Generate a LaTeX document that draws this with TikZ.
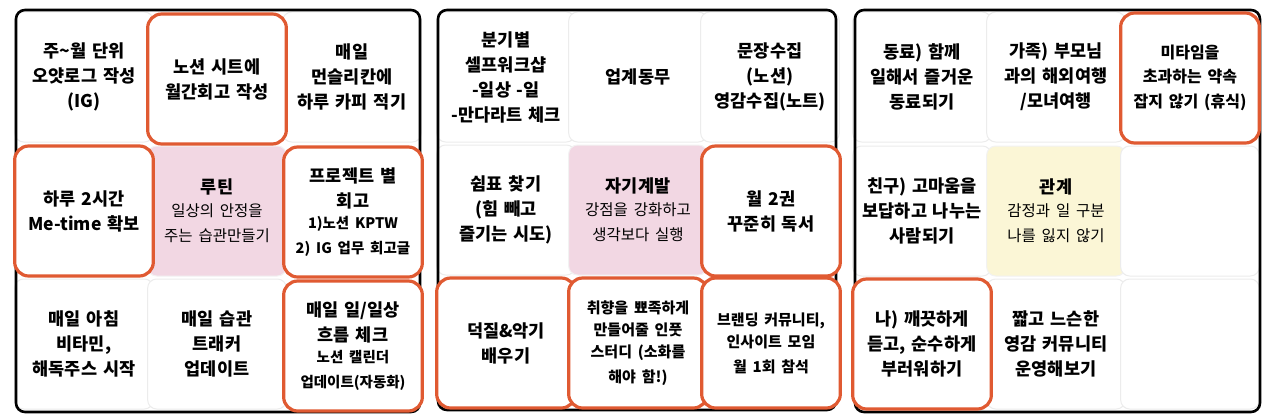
\documentclass[tikz,border=0pt]{standalone}
\usepackage{fontspec}
\setmainfont{Noto Sans CJK KR}
\definecolor{org}{HTML}{E05A32}
\definecolor{pinkc}{HTML}{F2D7E3}
\definecolor{yelc}{HTML}{FBF6D6}
\definecolor{grid}{HTML}{ECECEC}
\tikzset{
 cellbox/.style={draw=grid, line width=1pt, rounded corners=9pt, fill=white, minimum width=129pt, minimum height=130pt, align=center, text width=132pt, font=\fontsize{17.5}{25}\selectfont\bfseries},
 hot/.style={draw=org, line width=3.2pt, rounded corners=14pt},
 pinkcell/.style={fill=pinkc, draw=grid!80!black!20},
 yelcell/.style={fill=yelc, draw=grid!80!black!20},
 outer/.style={draw=black, line width=2.6pt, rounded corners=9pt}
}
\newcommand{\subt}[1]{{\mdseries\fontsize{15.5}{23}\selectfont #1}}
\begin{document}
\begin{tikzpicture}[x=1pt,y=-1pt]
\useasboundingbox (0,0) rectangle (1280,420);
\fill[white] (0,0) rectangle (1280,420);
% panel 1
\node[cellbox] (a11) at (84,77) {주\textasciitilde 월 단위\\오얏로그 작성\\(IG)};
\node[cellbox] (a13) at (352,77) {매일\\먼슬리칸에\\하루 카피 적기};
\node[cellbox,pinkcell] (a22) at (217,211) {루틴\\\subt{일상의 안정을\\주는 습관만들기}};
\node[cellbox] (a31) at (84,344) {매일 아침\\비타민,\\해독주스 시작};
\node[cellbox] (a32) at (217,344) {매일 습관\\트래커\\업데이트};
% panel 2
\node[cellbox] (b11) at (506,77) {분기별\\셀프워크샵\\-일상 -일\\-만다라트 체크};
\node[cellbox] (b12) at (638,77) {업계동무};
\node[cellbox] (b13) at (770,77) {문장수집\\(노션)\\영감수집(노트)};
\node[cellbox] (b21) at (506,210) {쉼표 찾기\\(힘 빼고\\즐기는 시도)};
\node[cellbox,pinkcell] (b22) at (638,210) {자기계발\\\subt{강점을 강화하고\\생각보다 실행}};
% panel 3
\node[cellbox] (c11) at (922,77) {동료) 함께\\일해서 즐거운\\동료되기};
\node[cellbox] (c12) at (1056,77) {가족) 부모님\\과의 해외여행\\/모녀여행};
\node[cellbox] (c21) at (922,211) {친구) 고마움을\\보답하고 나누는\\사람되기};
\node[cellbox,yelcell] (c22) at (1056,211) {관계\\\subt{감정과 일 구분\\나를 잃지 않기}};
\node[cellbox] (c23) at (1190,211) {};
\node[cellbox] (c32) at (1056,344) {짧고 느슨한\\영감 커뮤니티\\운영해보기};
\node[cellbox] (c33) at (1190,344) {};
% frames
\draw[outer] (16,10) rectangle (420,412);
\draw[outer] (438,10) rectangle (836,410);
\draw[outer] (855,10) rectangle (1260,412);
% highlighted cells
\node[cellbox,hot] (a12) at (217,79) {노션 시트에\\월간회고 작성};
\node[cellbox,hot] (a21) at (84,211) {하루 2시간\\Me-time 확보};
\node[cellbox,hot] (a23) at (353,212) {프로젝트 별\\회고\\{\fontsize{14.5}{21}\selectfont 1)노션 KPTW\\2) IG 업무 회고글}};
\node[cellbox,hot] (a33) at (353,346) {매일 일/일상\\흐름 체크\\{\fontsize{14.5}{21}\selectfont 노션 캘린더\\업데이트(자동화)}};
\node[cellbox,hot] (b23) at (771,211) {월 2권\\꾸준히 독서};
\node[cellbox,hot] (b31) at (506,343) {덕질\&악기\\배우기};
\node[cellbox,hot] (b32) at (638,343) {\fontsize{15}{22}\selectfont 취향을 뾰족하게\\만들어줄 인풋\\스터디 (소화를\\해야 함!)};
\node[cellbox,hot] (b33) at (771,343) {\fontsize{15}{22}\selectfont 브랜딩 커뮤니티,\\인사이트 모임\\월 1회 참석};
\node[cellbox,hot] (c13) at (1190,78) {\fontsize{16}{24}\selectfont 미타임을\\초과하는 약속\\잡지 않기 (휴식)};
\node[cellbox,hot] (c31) at (922,344) {나) 깨끗하게\\듣고, 순수하게\\부러워하기};
\end{tikzpicture}
\end{document}
